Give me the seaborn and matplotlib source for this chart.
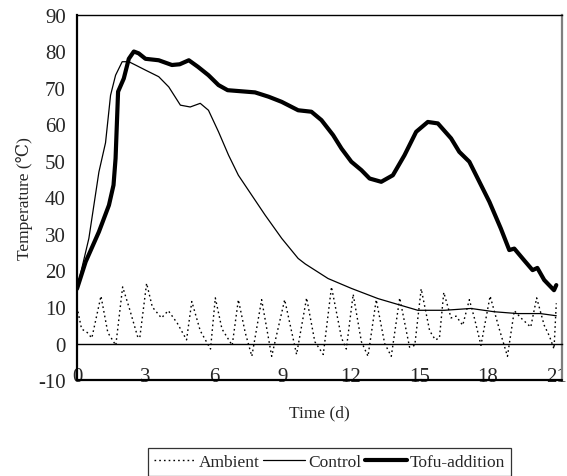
import matplotlib
matplotlib.use("Agg")
import matplotlib.pyplot as plt
import seaborn as sns

# --- data ---
ambient_day = [0.0, 0.2, 0.45, 0.65, 1.05, 1.35, 1.7, 2.0, 2.3, 2.65, 2.75, 3.05, 3.3, 3.7,
               4.0, 4.4, 4.8, 5.03, 5.4, 5.85, 6.06, 6.35, 6.8, 7.07, 7.37, 7.66, 8.09,
               8.53, 9.1, 9.62, 10.06, 10.42, 10.79, 11.15, 11.59, 11.8, 12.1, 12.46,
               12.75, 13.11, 13.48, 13.77, 14.14, 14.57, 14.8, 15.08, 15.45, 15.7, 15.88,
               16.07, 16.39, 16.61, 16.9, 17.19, 17.41, 17.7, 18.1, 18.5, 18.86, 19.16,
               19.45, 19.88, 20.14, 20.47, 20.7, 20.9, 21.0]
ambient_temp = [10, 4, 3, 1.5, 13, 3, -0.5, 15.5, 9.5, 2, 1.5, 16.5, 10, 7,
                9, 5.5, 1, 11.5, 3.5, -1.5, 12.5, 4, -0.5, 12, 3, -3.5, 12,
                -3.5, 12, -3, 12.5, 0.5, -3, 15.5, 1.5, -1.5, 13.5, 0.5,
                -3.5, 12, 0, -3.5, 12.5, -1, -0.5, 15, 3.5, 1, 1.5,
                14, 7, 7.5, 5, 12, 7, -0.5, 13, 4, -3.5, 9,
                7, 4.5, 12.5, 5, 2, -1.5, 11]

control_day = [0.0, 0.52, 0.96, 1.25, 1.47, 1.69, 1.98, 2.27, 2.56, 3.0, 3.58, 4.02, 4.53,
               4.96, 5.4, 5.76, 6.2, 6.64, 7.07, 7.66, 8.24, 8.97, 9.69, 10.0, 11.0,
               12.02, 13.19, 14.06, 14.93, 16.1, 17.26, 18.28, 19.3, 20.3, 21.0]
control_temp = [15, 28.8, 47, 55, 68, 73.5, 77.2, 77.2, 76.3, 74.9, 73.1, 70.3, 65.3,
                64.8, 65.8, 63.9, 58, 51.6, 46.1, 40.6, 35.2, 28.8, 23.3, 21.8, 17.8,
                15.1, 12.3, 10.7, 9.1, 9.1, 9.6, 8.7, 8.2, 8.2, 7.6]

tofu_day = [0.0, 0.38, 0.96, 1.4, 1.6, 1.69, 1.8, 2.05, 2.27, 2.49, 2.7, 3.0, 3.58, 4.16,
            4.5, 4.9, 5.3, 5.76, 6.2, 6.6, 7.2, 7.8, 8.4, 8.97, 9.69, 10.27, 10.71,
            11.22, 11.59, 12.02, 12.46, 12.82, 13.33, 13.84, 14.35, 14.86, 15.37, 15.81,
            16.39, 16.75, 17.19, 17.63, 18.07, 18.57, 18.94, 19.16, 19.59, 19.96, 20.17,
            20.47, 20.9, 21.0]
tofu_temp = [15, 22.4, 30.6, 37.9, 43.4, 50.7, 69, 72.6, 78, 80, 79.5, 78, 77.6, 76.3,
             76.5, 77.6, 75.8, 73.5, 70.8, 69.4, 69.1, 68.8, 67.6, 66.2, 63.9, 63.5, 61.2,
             57.1, 53.4, 49.8, 47.5, 45.2, 44.3, 46.1, 51.6, 58, 60.7, 60.3,
             56.2, 52.5, 49.8, 44.3, 38.8, 31.5, 25.6, 26, 22.8, 20.1, 20.7,
             17.4, 14.6, 16]

x_ticks = [0, 3, 6, 9, 12, 15, 18, 21]
y_ticks = [-10, 0, 10, 20, 30, 40, 50, 60, 70, 80, 90]

sns.set_style("white")
plt.rcParams['font.family'] = ['Liberation Serif', 'DejaVu Serif']
plt.rcParams['axes.unicode_minus'] = False

fig = plt.figure(figsize=(5.67, 4.77), dpi=100)
ax = fig.add_axes([77 / 567, 1 - 381 / 477, (562 - 77) / 567, (381 - 16) / 477])

sns.lineplot(x=ambient_day, y=ambient_temp, ax=ax, color='black', lw=1.0,
             linestyle=(0, (1.2, 2.2)), label='Ambient')
sns.lineplot(x=control_day, y=control_temp, ax=ax, color='black', lw=0.9, label='Control')
sns.lineplot(x=tofu_day, y=tofu_temp, ax=ax, color='black', lw=3.0, label='Tofu-addition')

ax.set_xlim(0, 21.25)
ax.set_ylim(-10, 90)
ax.set_yticks(y_ticks)
ax.set_xticks(x_ticks)

# x axis crosses at 0, labels sit just above the bottom frame
ax.spines['bottom'].set_position(('data', 0))
ax.spines['bottom'].set_linewidth(1.0)
ax.spines['bottom'].set_color('black')
ax.axhline(-10, color='black', lw=1.6, clip_on=False, zorder=5)
ax.spines['left'].set_linewidth(1.6)
ax.spines['left'].set_color('black')
ax.spines['top'].set_linewidth(1.0)
ax.spines['top'].set_color('black')
ax.spines['right'].set_linewidth(1.6)
ax.spines['right'].set_color('#7f7f7f')

ax.tick_params(axis='x', direction='in', length=4, width=1, labelsize=15, pad=17)
ax.tick_params(axis='y', direction='in', length=4, width=1, labelsize=15, pad=8)
ax.tick_params(axis='x', top=False)
ax.tick_params(axis='y', right=False)

ax.set_xlabel('Time (d)', fontsize=12.5, labelpad=0)
ax.xaxis.set_label_coords(0.5, -0.066)
ax.set_ylabel('Temperature (℃)', fontsize=12.5, labelpad=4)

handles, labels = ax.get_legend_handles_labels()
ax.get_legend().remove()
leg = fig.legend(handles, labels, loc='upper center', bbox_to_anchor=(329.5 / 567, 1 - 449 / 477),
                 ncol=3, fontsize=12.5, frameon=True, fancybox=False, edgecolor='black',
                 handlelength=2.4, handletextpad=0.2, columnspacing=0.2, borderpad=0.35,
                 borderaxespad=0)
leg.get_frame().set_linewidth(0.9)

fig.savefig('out.png', dpi=100)
